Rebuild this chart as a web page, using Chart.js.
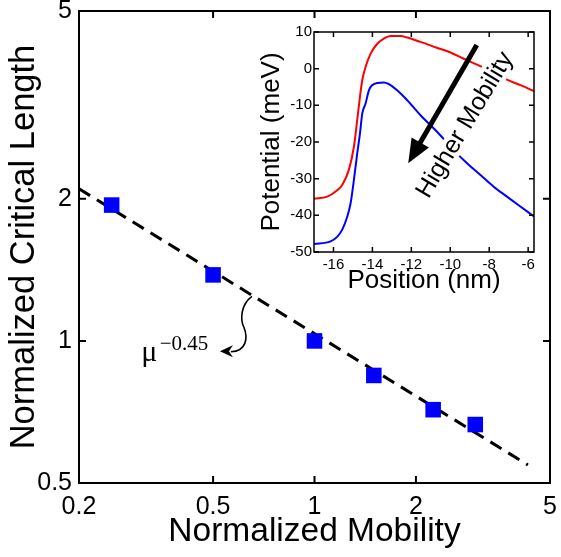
<!DOCTYPE html>
<html><head><meta charset="utf-8">
<script src="https://cdn.jsdelivr.net/npm/chart.js@4/dist/chart.umd.min.js"></script>
<style>
html,body{margin:0;padding:0;background:#fff;}
#wrap{position:relative;width:561px;height:557px;overflow:hidden;}
#main{position:absolute;left:0;top:0;}
#inset{position:absolute;left:240px;top:20px;}
</style></head><body>
<div id="wrap">
<canvas id="main" width="561" height="557"></canvas>
<canvas id="inset" width="305" height="280"></canvas>
</div>
<script>
// ---------- main plot data ----------
const mobility = [0.25, 0.5, 1, 1.5, 2.25, 3];
const criticalLength = [1.94, 1.38, 1.0, 0.845, 0.715, 0.665];
const fitMobility = [0.2, 4.3];
const fitLength = [2.10, 0.546];
const mainXTicks = [0.2, 0.5, 1, 2, 5];
const mainYTicks = [0.5, 1, 2, 5];
const fitLabel = 'μ';
const fitExponent = '−0.45';

// ---------- inset data ----------
const positionRed = [-17, -16.32, -15.89, -15.55, -15.21, -14.95, -14.78, -14.64, -14.52, -14.35, -14.09, -13.75, -13.41, -13.07, -12.56, -12.21, -11.53, -10.68, -9.99, -9.31, -8.62, -7.77, -7.09, -6.40, -5.7];
const potentialRed = [-35.5, -34.9, -33.5, -31.7, -27.6, -21.3, -14.0, -7.7, -3.1, 0.5, 4.1, 6.8, 8.2, 8.9, 8.9, 8.5, 7.3, 5.7, 4.4, 2.7, 1.1, -1.2, -3.0, -4.5, -6.1];
const positionBlue = [-17, -16.15, -15.80, -15.55, -15.29, -15.12, -14.95, -14.78, -14.64, -14.52, -14.35, -14.18, -14.01, -13.75, -13.41, -13.07, -12.73, -12.21, -11.53, -10.68, -9.82, -9.14, -8.45, -7.77, -7.09, -6.40, -5.7];
const potentialBlue = [-47.8, -47.1, -45.8, -43.9, -40.3, -36.7, -30.3, -23.1, -17.7, -12.2, -9.5, -5.9, -4.5, -3.9, -3.8, -4.5, -5.9, -8.6, -12.7, -17.2, -22.2, -25.8, -29.0, -32.2, -34.9, -37.6, -40.3];
const insetXTicks = [-16, -14, -12, -10, -8, -6];
const insetYTicks = [-50, -40, -30, -20, -10, 0, 10];
const insetArrowFrom = [-8.64, 6.45];
const insetArrowTo = [-12.16, -25.8];
const insetTextAt = [-9.24, -15.4];
const insetText = 'Higher Mobility';

const SANS = '"Liberation Sans", Arial, sans-serif';
const SERIF = '"Liberation Serif", "Times New Roman", serif';

// box with inward ticks
const boxPlugin = {
  id: 'box',
  afterDatasetsDraw(chart, args, o) {
    const {ctx, chartArea: a, scales} = chart;
    ctx.save();
    ctx.strokeStyle = '#000';
    ctx.lineWidth = o.lw;
    ctx.strokeRect(a.left, a.top, a.right - a.left, a.bottom - a.top);
    ctx.beginPath();
    o.xTicks.forEach(v => {
      const p = scales.x.getPixelForValue(v);
      ctx.moveTo(p, a.bottom); ctx.lineTo(p, a.bottom - o.len);
      ctx.moveTo(p, a.top); ctx.lineTo(p, a.top + o.len);
    });
    o.yTicks.forEach(v => {
      const p = scales.y.getPixelForValue(v);
      ctx.moveTo(a.left, p); ctx.lineTo(a.left + o.len, p);
      ctx.moveTo(a.right, p); ctx.lineTo(a.right - o.len, p);
    });
    ctx.stroke();
    ctx.restore();
  }
};

// mu^-0.45 annotation with curly arrow
const muPlugin = {
  id: 'mu',
  afterDatasetsDraw(chart) {
    const {ctx, scales: {x, y}} = chart;
    ctx.save();
    const tx = x.getPixelForValue(0.306), ty = y.getPixelForValue(0.908);
    ctx.fillStyle = '#000';
    ctx.textBaseline = 'alphabetic';
    ctx.textAlign = 'left';
    ctx.font = '30px ' + SERIF;
    ctx.fillText(fitLabel, tx, ty);
    ctx.font = '21px ' + SERIF;
    ctx.fillText(fitExponent, tx + 18.5, ty - 11);
    const sx = x.getPixelForValue(0.652), sy = y.getPixelForValue(1.243);
    ctx.strokeStyle = '#000';
    ctx.lineWidth = 1.6;
    ctx.beginPath();
    ctx.moveTo(sx, sy);
    ctx.bezierCurveTo(sx - 11, sy + 8, sx - 12, sy + 23, sx - 8, sy + 31);
    ctx.bezierCurveTo(sx - 4, sy + 41, sx - 5, sy + 55, sx - 21, sy + 55.5);
    ctx.stroke();
    const hx = sx - 32, hy = sy + 55;
    ctx.beginPath();
    ctx.moveTo(hx, hy);
    ctx.lineTo(hx + 13, hy - 6);
    ctx.lineTo(hx + 9, hy);
    ctx.lineTo(hx + 13, hy + 6);
    ctx.closePath();
    ctx.fillStyle = '#000';
    ctx.fill();
    ctx.restore();
  }
};

new Chart(document.getElementById('main'), {
  type: 'scatter',
  data: {
    datasets: [
      {
        type: 'line',
        data: fitMobility.map((v, i) => ({x: v, y: fitLength[i]})),
        borderColor: '#000', borderWidth: 3, borderDash: [13, 8],
        pointRadius: 0, fill: false, order: 2
      },
      {
        data: mobility.map((v, i) => ({x: v, y: criticalLength[i]})),
        backgroundColor: '#0000ff', borderColor: '#0000ff', borderWidth: 0,
        pointStyle: 'rect', pointRadius: 11, order: 1
      }
    ]
  },
  options: {
    responsive: false, animation: false,
    layout: {padding: {left: 0, right: 7, top: 7, bottom: 0}},
    plugins: {legend: {display: false}, tooltip: {enabled: false},
      box: {lw: 2, len: 7, xTicks: mainXTicks, yTicks: mainYTicks}},
    scales: {
      x: {
        type: 'logarithmic', min: 0.2, max: 5,
        afterBuildTicks: s => { s.ticks = mainXTicks.map(v => ({value: v})); },
        afterFit: s => { s.height = 74; s.paddingLeft = 0; s.paddingRight = 0; },
        grid: {display: false, drawTicks: false}, border: {display: false},
        ticks: {autoSkip: false, maxRotation: 0, padding: 9, color: '#000',
          font: {size: 25, family: SANS}, callback: v => String(v)},
        title: {display: true, text: 'Normalized Mobility', color: '#000',
          font: {size: 33.5, family: SANS}, padding: {top: 0, bottom: 5}}
      },
      y: {
        type: 'logarithmic', min: 0.5, max: 5,
        afterBuildTicks: s => { s.ticks = mainYTicks.map(v => ({value: v})); },
        afterFit: s => { s.width = 79; s.paddingTop = 0; s.paddingBottom = 0; },
        grid: {display: false, drawTicks: false}, border: {display: false},
        ticks: {autoSkip: false, padding: 7, color: '#000',
          font: {size: 25, family: SANS}, callback: v => String(v)},
        title: {display: true, text: 'Normalized Critical Length', color: '#000',
          font: {size: 34.5, family: SANS}, padding: {top: 4, bottom: 0}}
      }
    }
  },
  plugins: [boxPlugin, muPlugin]
});

// inset annotation: arrow + rotated label
const insetAnnot = {
  id: 'insetAnnot',
  afterDatasetsDraw(chart) {
    const {ctx, scales: {x, y}} = chart;
    ctx.save();
    const cx = x.getPixelForValue(insetTextAt[0]), cy = y.getPixelForValue(insetTextAt[1]);
    ctx.translate(cx, cy);
    ctx.rotate(-59 * Math.PI / 180);
    ctx.font = '25px ' + SANS;
    ctx.textAlign = 'center';
    ctx.textBaseline = 'middle';
    ctx.lineJoin = 'round';
    ctx.strokeStyle = '#fff';
    ctx.lineWidth = 9;
    ctx.strokeText(insetText, 0, 0);
    ctx.fillStyle = '#000';
    ctx.fillText(insetText, 0, 0);
    ctx.restore();
    ctx.save();
    const x0 = x.getPixelForValue(insetArrowFrom[0]), y0 = y.getPixelForValue(insetArrowFrom[1]);
    const x1 = x.getPixelForValue(insetArrowTo[0]), y1 = y.getPixelForValue(insetArrowTo[1]);
    const ang = Math.atan2(y1 - y0, x1 - x0);
    const hl = 24, hw = 10;
    const bx = x1 - hl * Math.cos(ang), by = y1 - hl * Math.sin(ang);
    ctx.strokeStyle = '#000';
    ctx.lineWidth = 5;
    ctx.lineCap = 'butt';
    ctx.beginPath(); ctx.moveTo(x0, y0); ctx.lineTo(bx + 2 * Math.cos(ang), by + 2 * Math.sin(ang)); ctx.stroke();
    ctx.fillStyle = '#000';
    ctx.beginPath();
    ctx.moveTo(x1, y1);
    ctx.lineTo(bx + hw * Math.sin(ang), by - hw * Math.cos(ang));
    ctx.lineTo(bx - hw * Math.sin(ang), by + hw * Math.cos(ang));
    ctx.closePath();
    ctx.fill();
    ctx.restore();
  }
};

new Chart(document.getElementById('inset'), {
  type: 'line',
  data: {
    datasets: [
      {data: positionRed.map((v, i) => ({x: v, y: potentialRed[i]})),
       borderColor: '#ff0000', borderWidth: 2, pointRadius: 0, cubicInterpolationMode: 'monotone', fill: false},
      {data: positionBlue.map((v, i) => ({x: v, y: potentialBlue[i]})),
       borderColor: '#0000ff', borderWidth: 2, pointRadius: 0, cubicInterpolationMode: 'monotone', fill: false}
    ]
  },
  options: {
    responsive: false, animation: false,
    layout: {padding: {left: 0, right: 11, top: 12, bottom: 0}},
    plugins: {legend: {display: false}, tooltip: {enabled: false},
      box: {lw: 1.5, len: 5, xTicks: insetXTicks, yTicks: insetYTicks}},
    scales: {
      x: {
        type: 'linear', min: -17, max: -5.7,
        afterBuildTicks: s => { s.ticks = insetXTicks.map(v => ({value: v})); },
        afterFit: s => { s.height = 48; s.paddingLeft = 0; s.paddingRight = 0; },
        grid: {display: false, drawTicks: false}, border: {display: false},
        ticks: {autoSkip: false, maxRotation: 0, padding: 4, color: '#000',
          font: {size: 15, family: SANS}, callback: v => String(v)},
        title: {display: true, text: 'Position (nm)', color: '#000',
          font: {size: 26, family: SANS}, padding: {top: 0, bottom: 4}}
      },
      y: {
        type: 'linear', min: -50, max: 10,
        afterBuildTicks: s => { s.ticks = insetYTicks.map(v => ({value: v})); },
        afterFit: s => { s.width = 74; s.paddingTop = 0; s.paddingBottom = 0; },
        grid: {display: false, drawTicks: false}, border: {display: false},
        ticks: {autoSkip: false, padding: 2, color: '#000',
          font: {size: 15, family: SANS}, callback: v => String(v)},
        title: {display: true, text: 'Potential (meV)', color: '#000',
          font: {size: 26, family: SANS}, padding: {top: 16, bottom: 0}}
      }
    }
  },
  plugins: [boxPlugin, insetAnnot]
});
</script>
</body></html>
